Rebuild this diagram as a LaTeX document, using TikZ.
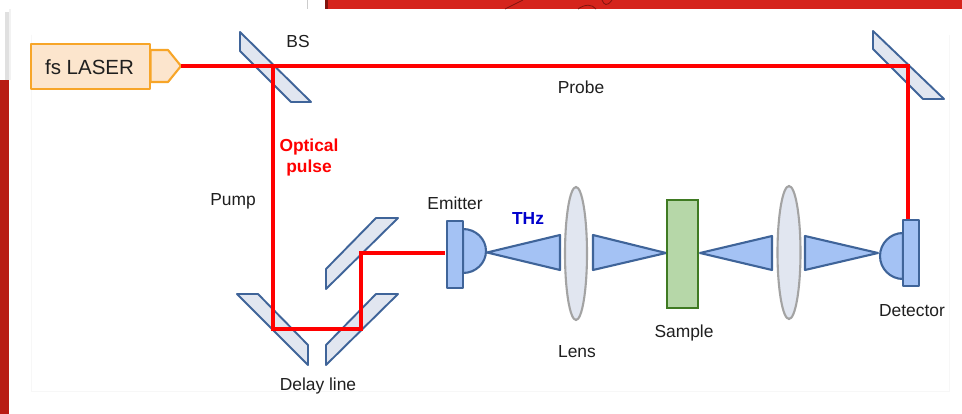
\documentclass[tikz,border=0pt]{standalone}
\usepackage{fontspec}
\setmainfont{Liberation Sans}
\definecolor{bgred}{HTML}{D5241C}
\definecolor{bgdark}{HTML}{B81C14}
\definecolor{mirfill}{HTML}{E1E6F0}
\definecolor{mirline}{HTML}{3F6499}
\definecolor{bluefill}{HTML}{A4C2F4}
\definecolor{lensline}{HTML}{A3A3A3}
\definecolor{lasfill}{HTML}{FCE5CD}
\definecolor{lasline}{HTML}{F7A528}
\definecolor{samfill}{HTML}{B6D7A8}
\definecolor{samline}{HTML}{3F7A22}
\definecolor{thzblue}{HTML}{0000CC}
\tikzset{
  mirror/.style={draw=mirline,fill=mirfill,line width=1.9pt,line join=round},
  bluepart/.style={draw=mirline,fill=bluefill,line width=2.1pt,line join=round},
  lens/.style={draw=lensline,fill=mirfill,line width=2.1pt},
  laser/.style={draw=lasline,fill=lasfill,line width=2.1pt,line join=round},
  beam/.style={draw=red,line width=3.4pt,line join=miter},
  lab/.style={anchor=base,inner sep=0pt,text=black!88,font=\fontsize{17.4}{20}\selectfont},
  blab/.style={lab,font=\fontsize{17.4}{20}\selectfont\bfseries},
  faint/.style={draw=black!3,line width=1pt}
}
\begin{document}
\begin{tikzpicture}[x=1pt,y=-1pt]
\useasboundingbox (0,0) rectangle (962,414);
\fill[white] (0,0) rectangle (962,414);
% page background behind the card
\fill[bgred] (325,0) rectangle (962,9);
\fill[bgdark!70!black] (325,0) rectangle (328,9);
\fill[black!20] (306.5,0) rectangle (307.5,9);
\fill[bgdark] (0,80) rectangle (9,414);
\fill[black!12] (5,12) rectangle (9,80);
\fill[black!5] (9,9) rectangle (11,80);
\draw[bgdark!70!black,line width=.8pt] (505,9) -- (523,0);
\draw[bgdark!70!black,line width=.8pt] (578,9) .. controls (585,4) and (592,4) .. (596,9);
\draw[bgdark!70!black,line width=.8pt] (602,0) .. controls (604,5) and (607,7) .. (612,0);
% faint frame
\draw[faint] (31,35) -- (31,391) -- (949,391) -- (949,35);
% mirrors
\path[mirror] (240,32) -- (311,102) -- (291,102) -- (240,51) -- cycle;
\path[mirror] (873,31) -- (944,99) -- (923,99) -- (873,49) -- cycle;
\path[mirror] (376,218) -- (398,218) -- (326,289) -- (326,269) -- cycle;
\path[mirror] (376,294) -- (398,294) -- (326,365) -- (326,345) -- cycle;
\path[mirror] (237,294) -- (258,294) -- (308,345) -- (308,365) -- cycle;
% laser
\node[laser,minimum width=119pt,minimum height=45pt,inner sep=0pt] (laser) at (90.5,66.5) {};
\path[laser] (150.5,50) -- (168,50) -- (181,66) -- (168,82) -- (150.5,82) -- cycle;
\coordinate (lasout) at (181,66);
\node[lab,font=\fontsize{20.5}{24}\selectfont] (lasertext) at (89.5,74.5) {fs LASER};
% beam path
\coordinate (bs) at (273,66);
\coordinate (mr) at (908,66);
\coordinate (det) at (908,219);
\coordinate (d1) at (273,329);
\coordinate (d2) at (361,329);
\coordinate (d3) at (361,253);
\coordinate (em) at (445,253);
\draw[beam] (lasout) -- (mr) -- (det);
\draw[beam] (bs) -- (d1) -- (d2) -- (d3) -- (em);
% emitter
\path[bluepart] (463,229) arc[start angle=-90,end angle=90,x radius=23,y radius=22] -- cycle;
\node[bluepart,minimum width=15.5pt,minimum height=66.5pt,inner sep=0pt] (emitter) at (455,254.5) {};
% THz cones
\path[bluepart] (487,252.5) -- (560,235) -- (560,270) -- cycle;
\path[bluepart] (593,235) -- (593,270) -- (666,253) -- cycle;
\path[bluepart] (700,253) -- (772,236) -- (772,270) -- cycle;
\path[bluepart] (805,236) -- (805,270) -- (878,253) -- cycle;
% lenses
\path[lens] (576,253.5) ellipse[x radius=11,y radius=66.5];
\path[lens] (789,252.5) ellipse[x radius=11.5,y radius=66.5];
% sample
\node[draw=samline,fill=samfill,line width=2.1pt,minimum width=31pt,minimum height=108pt,inner sep=0pt] (sample) at (682.5,254) {};
% detector
\path[bluepart] (903,233) arc[start angle=-90,end angle=-270,x radius=23,y radius=23] -- cycle;
\node[bluepart,minimum width=16pt,minimum height=66pt,inner sep=0pt] (detector) at (911,253) {};
% labels
\node[lab] (bslab) at (298,48) {BS};
\node[lab] (probelab) at (581,94) {Probe};
\node[blab,text=red] (opt1) at (309,152) {Optical};
\node[blab,text=red] (opt2) at (309,173) {pulse};
\node[lab] (pumplab) at (233,206) {Pump};
\node[lab] (emlab) at (455,210) {Emitter};
\node[blab,text=thzblue] (thzlab) at (528,224.5) {THz};
\node[lab] (lenslab) at (577,358) {Lens};
\node[lab] (samlab) at (684,337.5) {Sample};
\node[lab] (detlab) at (912,316.5) {Detector};
\node[lab] (dellab) at (318,390) {Delay line};
\end{tikzpicture}
\end{document}
